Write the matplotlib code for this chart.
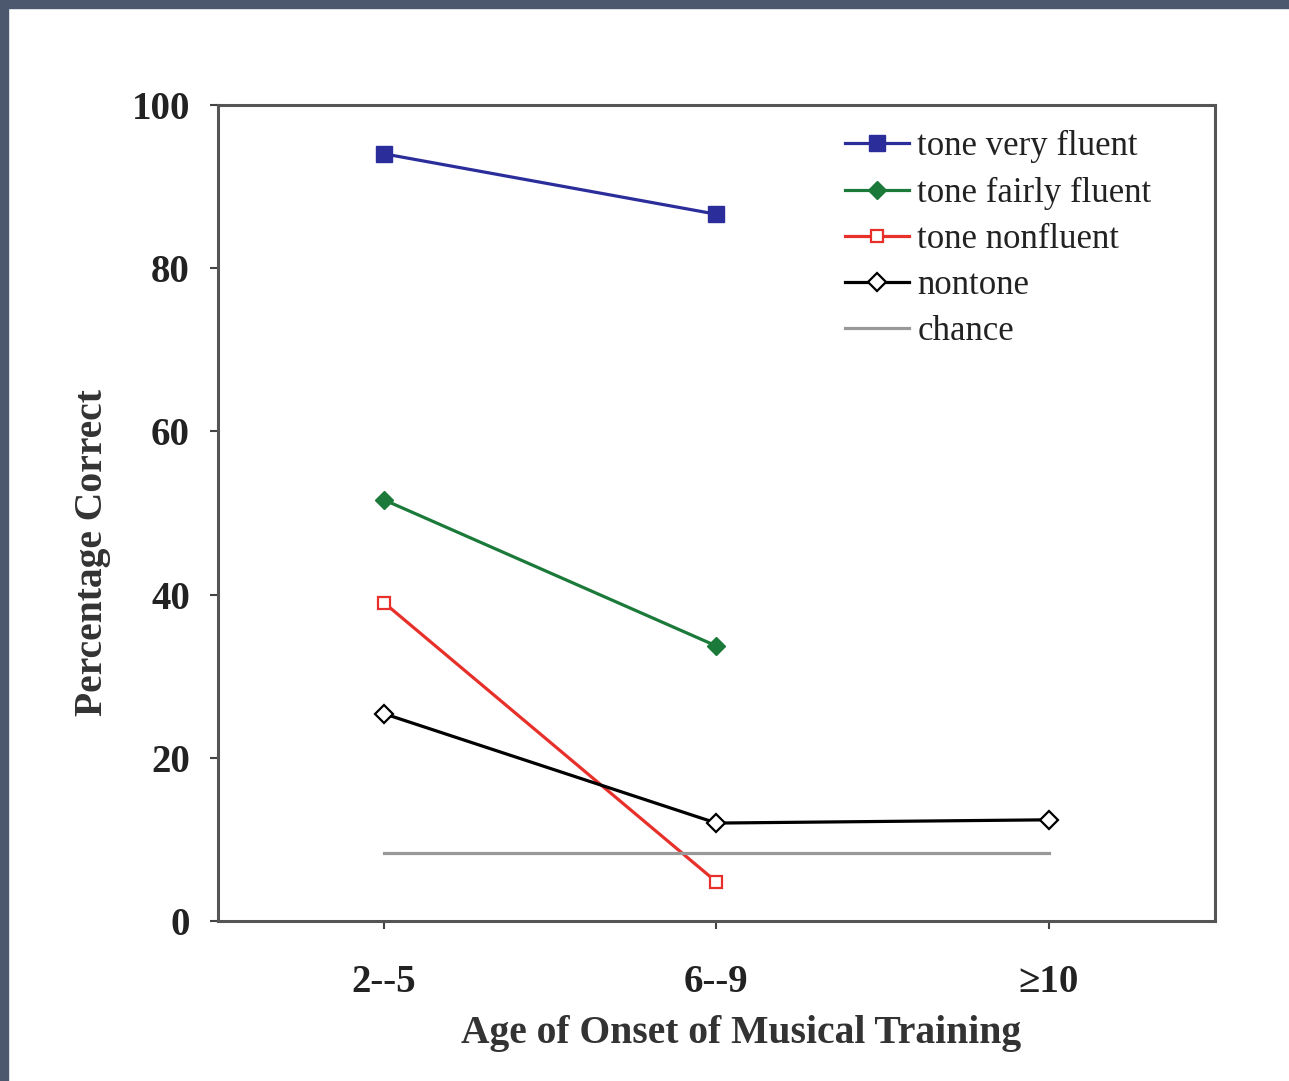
import numpy as np
import matplotlib
matplotlib.use("Agg")
import matplotlib.pyplot as plt
from matplotlib.patches import Rectangle

plt.rcParams['font.family'] = ['Liberation Serif', 'DejaVu Serif']

# data
categories = ['2--5', '6--9', '\u226510']
very_fluent = [94.0, 86.6]
fairly_fluent = [51.6, 33.7]
nonfluent = [39.0, 4.8]
nontone = [25.4, 12.0, 12.4]
chance = [8.3, 8.3]

fig = plt.figure(figsize=(12.89, 10.81), dpi=100)
ax = fig.add_axes([0.169, 0.148, 0.7735, 0.755])

# dark frame on the left and top of the picture
fig.patches.append(Rectangle((0, 0), 8 / 1289, 1, transform=fig.transFigure,
                             color='#4b586d', zorder=10))
fig.patches.append(Rectangle((0, 1 - 8 / 1081), 1, 8 / 1081, transform=fig.transFigure,
                             color='#4b586d', zorder=10))

x = np.arange(len(categories))
lw = 2.3
ax.plot(x[:2], very_fluent, '-s', color='#2b2d9a', lw=lw, ms=11,
        label='tone very fluent')
ax.plot(x[:2], fairly_fluent, '-D', color='#1b7a3a', lw=lw, ms=9,
        label='tone fairly fluent')
ax.plot(x[:2], nonfluent, '-s', color='#e8302a', lw=lw, ms=9, mfc='white',
        mew=1.6, label='tone nonfluent')
ax.plot(x, nontone, '-D', color='black', lw=lw, ms=9, mfc='white',
        mew=1.6, label='nontone')
ax.plot([x[0], x[2]], chance, '-', color='#999999', lw=lw, label='chance')

ax.set_xlim(-0.5, 2.5)
ax.set_ylim(0, 100)
ax.set_xticks(x)
ax.set_xticklabels(categories)
ax.set_yticks(np.arange(0, 101, 20))
ax.tick_params(axis='both', labelsize=28, width=1.5, length=6, color='#444444')
for lab in ax.get_xticklabels() + ax.get_yticklabels():
  lab.set_fontweight('bold')
  lab.set_color('#222222')
ax.tick_params(axis='x', pad=25)
ax.tick_params(axis='y', pad=14)

for sp in ax.spines.values():
  sp.set_linewidth(2.2)
  sp.set_color('#555555')

ax.set_xlabel('Age of Onset of Musical Training', fontsize=28.5,
              fontweight='bold', color='#333333')
ax.xaxis.set_label_coords(0.525, -0.115)
ax.set_ylabel('Percentage Correct', fontsize=28.5, fontweight='bold',
              color='#333333')
ax.yaxis.set_label_coords(-0.107, 0.452)

leg = ax.legend(loc='upper right', frameon=False, fontsize=25,
                handlelength=1.87, handletextpad=0.23, labelspacing=0.38,
                bbox_to_anchor=(0.968, 1.007))
for t in leg.get_texts():
  t.set_color('#222222')

fig.savefig('out.png', dpi=100)
